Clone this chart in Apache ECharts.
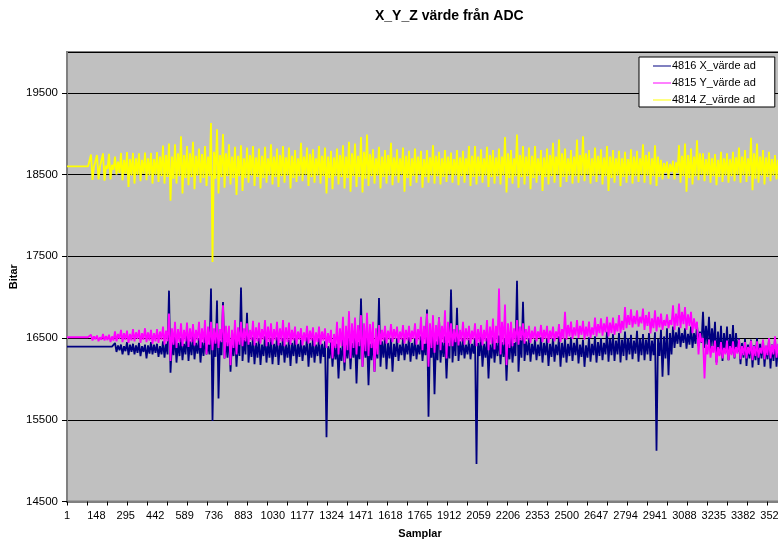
<!DOCTYPE html>
<html>
<head>
<meta charset="utf-8">
<title>X_Y_Z värde från ADC</title>
<script src="https://cdn.jsdelivr.net/npm/echarts@6/dist/echarts.min.js"></script>
<style>
  html, body { margin: 0; padding: 0; background: #fff; }
  #chart { width: 778px; height: 544px; }
</style>
</head>
<body>
<div id="chart"></div>
<script>
// one chunk = 15 samples, each chunk keeps the high and the low value
const CHUNK = 15
const seriesNames = ['4816 X_värde ad', '4815 Y_värde ad', '4814 Z_värde ad']

// 4816 X (navy)
const xHi = [
  16395, 16395, 16395, 16395, 16395, 16395, 16395, 16395, 16395, 16395, 16395, 16395, 16395, 16395, 16395, 16395,
  16440, 16410, 16420, 16400, 16450, 16420, 16430, 16410, 16440, 16400, 16420, 16410, 16450, 16420, 16430, 16400,
  16460, 16430, 17080, 16450, 16540, 16440, 16500, 16430, 16560, 16460, 16520, 16440, 16500, 16450, 16520, 16420,
  17106, 16500, 16960, 16470, 16940, 16450, 16560, 16440, 16540, 16460, 17118, 16480, 16808, 16450, 16510, 16440,
  16500, 16420, 16520, 16450, 16490, 16430, 16510, 16440, 16500, 16420, 16480, 16440, 16500, 16430, 16480, 16410,
  16510, 16440, 16490, 16420, 16500, 16430, 16460, 16400, 16450, 16410, 16430, 16380, 16480, 16420, 16500, 16440,
  16520, 16450, 16984, 16460, 16520, 16430, 16490, 16420, 16991, 16460, 16510, 16440, 16500, 16430, 16500, 16420,
  16490, 16430, 16510, 16440, 16500, 16420, 16520, 16430, 16850, 16480, 16600, 16460, 16750, 16450, 16520, 16440,
  17094, 16500, 16870, 16460, 16490, 16420, 16480, 16430, 16500, 16440, 16520, 16430, 16500, 16420, 16510, 16440,
  16530, 16450, 16500, 16430, 16520, 16440, 17200, 16480, 16943, 16460, 16500, 16430, 16480, 16420, 16510, 16440,
  16490, 16430, 16500, 16420, 16520, 16440, 16490, 16430, 16510, 16440, 16500, 16420, 16480, 16410, 16510, 16430,
  16520, 16450, 16500, 16440, 16576, 16490, 16550, 16470, 16560, 16480, 16580, 16500, 16540, 16470, 16590, 16490,
  16550, 16480, 16560, 16470, 16570, 16490, 16600, 16520, 16620, 16560, 16640, 16570, 16630, 16560, 16620, 16550,
  16640, 16560, 16660, 16580, 16820, 16650, 16760, 16620, 16700, 16580, 16650, 16560, 16640, 16550, 16660, 16560,
  16500, 16440, 16490, 16420, 16480, 16410, 16500, 16430, 16470, 16400, 16480, 16420, 16490, 16410, 16470, 16400
]
const xLo = [
  16375, 16375, 16375, 16375, 16375, 16375, 16375, 16375, 16375, 16375, 16375, 16375, 16375, 16375, 16375, 16375,
  16330, 16350, 16300, 16340, 16290, 16330, 16300, 16320, 16280, 16330, 16250, 16310, 16300, 16320, 16270, 16300,
  16260, 16300, 16075, 16290, 16200, 16280, 16230, 16300, 16220, 16290, 16240, 16310, 16200, 16280, 16300, 16300,
  15484, 16270, 15760, 16290, 16250, 16260, 16087, 16280, 16150, 16280, 16220, 16300, 16200, 16270, 16180, 16260,
  16170, 16280, 16200, 16260, 16180, 16270, 16170, 16290, 16200, 16260, 16160, 16280, 16190, 16270, 16220, 16290,
  16150, 16260, 16200, 16280, 16190, 16270, 15285, 16250, 16150, 16240, 16006, 16220, 16100, 16250, 16120, 16260,
  15945, 16240, 16150, 16260, 15924, 16230, 16087, 16250, 16150, 16260, 16120, 16250, 16087, 16270, 16220, 16290,
  16230, 16300, 16210, 16280, 16240, 16300, 16220, 16290, 15537, 16260, 15814, 16230, 16200, 16270, 16006, 16250,
  16200, 16280, 16220, 16290, 16250, 16300, 16240, 16310, 14958, 16280, 16150, 16260, 16006, 16250, 16200, 16280,
  16180, 16270, 15977, 16240, 16200, 16280, 16087, 16260, 16220, 16290, 16210, 16300, 16230, 16280, 16200, 16290,
  16160, 16270, 16210, 16290, 16150, 16260, 16200, 16280, 16220, 16290, 16190, 16270, 16148, 16260, 16210, 16290,
  16200, 16280, 16230, 16300, 16210, 16290, 16220, 16300, 16200, 16280, 16230, 16300, 16240, 16310, 16210, 16290,
  16230, 16300, 16220, 16290, 15121, 16280, 16026, 16250, 16046, 16300, 16380, 16430, 16390, 16440, 16370, 16420,
  16380, 16430, 16400, 16440, 16380, 16420, 16350, 16400, 16200, 16300, 16220, 16320, 16230, 16310, 16250, 16330,
  16180, 16260, 16160, 16250, 16140, 16230, 16170, 16250, 16150, 16240, 16128, 16220, 16150, 16240, 16160, 16250
]

// 4815 Y (magenta)
const yHi = [
  16510, 16510, 16510, 16510, 16510, 16510, 16510, 16510, 16540, 16520, 16530, 16510, 16550, 16525, 16540, 16520,
  16580, 16550, 16600, 16560, 16590, 16550, 16610, 16570, 16600, 16560, 16620, 16570, 16600, 16560, 16610, 16580,
  16640, 16590, 16800, 16620, 16700, 16610, 16680, 16600, 16690, 16620, 16670, 16600, 16700, 16620, 16720, 16640,
  16700, 16620, 16680, 16610, 16900, 16650, 16650, 16600, 16720, 16630, 16700, 16620, 16680, 16600, 16710, 16630,
  16690, 16610, 16720, 16640, 16680, 16610, 16700, 16620, 16720, 16630, 16690, 16600, 16640, 16580, 16620, 16570,
  16650, 16590, 16630, 16570, 16640, 16580, 16620, 16560, 16600, 16550, 16700, 16620, 16760, 16650, 16829, 16680,
  16750, 16660, 16780, 16680, 16810, 16670, 16700, 16620, 16660, 16600, 16650, 16590, 16670, 16610, 16640, 16580,
  16660, 16600, 16650, 16590, 16680, 16610, 16760, 16650, 16800, 16680, 16780, 16660, 16750, 16650, 16840, 16700,
  16680, 16610, 16660, 16600, 16700, 16620, 16650, 16590, 16680, 16610, 16660, 16600, 16720, 16640, 16740, 16650,
  17106, 16700, 16911, 16680, 16700, 16620, 16720, 16640, 16680, 16610, 16650, 16590, 16640, 16580, 16660, 16600,
  16650, 16590, 16640, 16580, 16670, 16610, 16820, 16660, 16700, 16630, 16720, 16650, 16710, 16640, 16700, 16630,
  16750, 16670, 16740, 16680, 16760, 16690, 16750, 16680, 16780, 16710, 16880, 16780, 16850, 16770, 16840, 16760,
  16860, 16780, 16820, 16740, 16840, 16760, 16800, 16720, 16790, 16720, 16900, 16800, 16923, 16820, 16880, 16790,
  16820, 16740, 16700, 16560, 16500, 16420, 16480, 16400, 16470, 16390, 16450, 16380, 16470, 16400, 16460, 16390,
  16480, 16400, 16450, 16390, 16470, 16400, 16460, 16380, 16480, 16410, 16500, 16420, 16520, 16430, 16480, 16400
]
const yLo = [
  16495, 16495, 16495, 16495, 16495, 16495, 16495, 16495, 16470, 16485, 16460, 16480, 16470, 16475, 16450, 16470,
  16460, 16490, 16450, 16480, 16440, 16470, 16460, 16490, 16440, 16480, 16450, 16470, 16430, 16460, 16440, 16480,
  16420, 16460, 16221, 16420, 16380, 16450, 16400, 16460, 16390, 16450, 16410, 16470, 16380, 16440, 16300, 16420,
  16350, 16430, 16380, 16450, 16250, 16400, 16169, 16380, 16300, 16420, 16400, 16460, 16420, 16470, 16410, 16460,
  16430, 16480, 16400, 16450, 16420, 16470, 16410, 16460, 16400, 16450, 16420, 16470, 16420, 16480, 16410, 16460,
  16430, 16470, 16400, 16450, 16420, 16470, 16380, 16440, 16250, 16380, 16300, 16400, 16200, 16350, 16250, 16380,
  16300, 16400, 16150, 16340, 16280, 16380, 16087, 16300, 16420, 16470, 16430, 16480, 16450, 16490, 16440, 16480,
  16430, 16470, 16450, 16490, 16420, 16470, 16350, 16430, 16148, 16380, 16320, 16420, 16350, 16440, 16250, 16400,
  16400, 16450, 16410, 16460, 16420, 16470, 16430, 16480, 16400, 16450, 16410, 16460, 16350, 16430, 16360, 16440,
  16300, 16420, 16169, 16380, 16400, 16450, 16420, 16470, 16430, 16480, 16440, 16490, 16460, 16500, 16450, 16490,
  16440, 16490, 16460, 16500, 16450, 16490, 16480, 16520, 16490, 16530, 16500, 16540, 16480, 16520, 16500, 16540,
  16520, 16560, 16530, 16570, 16520, 16560, 16540, 16580, 16560, 16600, 16620, 16660, 16630, 16670, 16640, 16680,
  16600, 16650, 16556, 16620, 16580, 16630, 16600, 16650, 16620, 16660, 16600, 16650, 16620, 16670, 16600, 16650,
  16560, 16610, 16300, 16450, 16006, 16300, 16260, 16320, 16170, 16280, 16250, 16300, 16230, 16290, 16260, 16310,
  16240, 16290, 16250, 16300, 16230, 16280, 16260, 16310, 16240, 16290, 16250, 16300, 16260, 16310, 16250, 16290
]

// 4814 Z (yellow)
const zHi = [
  18600, 18600, 18600, 18600, 18600, 18600, 18600, 18600, 18745, 18600, 18740, 18600, 18760, 18610, 18755, 18620,
  18720, 18660, 18765, 18680, 18775, 18690, 18765, 18700, 18760, 18680, 18770, 18700, 18765, 18690, 18775, 18720,
  18855, 18740, 18880, 18720, 18870, 18760, 18970, 18740, 18850, 18760, 18900, 18730, 18820, 18750, 18850, 18720,
  19130, 18780, 19055, 18740, 18995, 18760, 18870, 18720, 18840, 18730, 18860, 18700, 18830, 18740, 18850, 18710,
  18820, 18730, 18840, 18700, 18870, 18720, 18820, 18740, 18850, 18710, 18830, 18730, 18800, 18700, 18890, 18720,
  18830, 18750, 18810, 18700, 18850, 18730, 18830, 18720, 18790, 18710, 18820, 18740, 18860, 18720, 18900, 18760,
  18880, 18730, 18960, 18780, 18990, 18750, 18810, 18700, 18840, 18720, 18800, 18740, 18890, 18710, 18810, 18700,
  18830, 18730, 18790, 18700, 18820, 18720, 18790, 18690, 18800, 18710, 18860, 18730, 18780, 18700, 18800, 18720,
  18770, 18690, 18800, 18710, 18790, 18700, 18850, 18730, 18850, 18720, 18810, 18700, 18840, 18740, 18800, 18710,
  18820, 18720, 18960, 18760, 18800, 18700, 18990, 18740, 18850, 18720, 18830, 18730, 18850, 18700, 18800, 18710,
  18820, 18740, 18890, 18720, 18930, 18760, 18820, 18700, 18800, 18720, 18930, 18740, 18970, 18760, 18800, 18700,
  18830, 18730, 18810, 18710, 18850, 18720, 18800, 18700, 18790, 18700, 18780, 18690, 18810, 18720, 18790, 18700,
  18870, 18740, 18780, 18700, 18860, 18720, 18680, 18640, 18660, 18630, 18670, 18650, 18860, 18730, 18880, 18740,
  18820, 18720, 18920, 18760, 18760, 18690, 18770, 18700, 18750, 18680, 18780, 18700, 18760, 18690, 18780, 18710,
  18830, 18720, 18800, 18700, 18950, 18760, 18880, 18720, 18800, 18710, 18780, 18690, 18740, 18680, 18760, 18700
]
const zLo = [
  18585, 18585, 18585, 18585, 18585, 18585, 18580, 18580, 18435, 18580, 18440, 18580, 18425, 18570, 18440, 18560,
  18500, 18520, 18430, 18510, 18350, 18490, 18390, 18500, 18420, 18510, 18430, 18490, 18390, 18500, 18410, 18480,
  18390, 18470, 18180, 18450, 18390, 18480, 18270, 18460, 18370, 18470, 18320, 18490, 18400, 18460, 18360, 18480,
  17430, 18450, 18270, 18470, 18340, 18480, 18380, 18460, 18250, 18480, 18300, 18460, 18400, 18490, 18360, 18470,
  18330, 18460, 18400, 18490, 18380, 18470, 18350, 18480, 18400, 18490, 18330, 18460, 18410, 18480, 18420, 18500,
  18360, 18470, 18400, 18490, 18390, 18480, 18270, 18460, 18320, 18480, 18380, 18470, 18330, 18460, 18290, 18480,
  18350, 18470, 18280, 18450, 18360, 18480, 18390, 18490, 18330, 18470, 18390, 18490, 18370, 18480, 18400, 18500,
  18290, 18460, 18360, 18480, 18400, 18500, 18340, 18470, 18400, 18490, 18390, 18480, 18380, 18470, 18410, 18500,
  18400, 18490, 18370, 18480, 18400, 18500, 18360, 18470, 18380, 18480, 18400, 18490, 18350, 18470, 18390, 18480,
  18380, 18490, 18280, 18460, 18390, 18480, 18340, 18470, 18380, 18480, 18320, 18460, 18400, 18490, 18300, 18470,
  18380, 18480, 18400, 18500, 18350, 18470, 18410, 18490, 18390, 18480, 18400, 18490, 18420, 18500, 18390, 18480,
  18410, 18500, 18380, 18480, 18300, 18460, 18400, 18490, 18360, 18470, 18400, 18490, 18390, 18480, 18410, 18500,
  18400, 18490, 18380, 18480, 18360, 18470, 18440, 18520, 18450, 18530, 18440, 18520, 18400, 18480, 18290, 18460,
  18380, 18480, 18430, 18500, 18420, 18490, 18400, 18480, 18370, 18470, 18410, 18490, 18400, 18480, 18420, 18500,
  18400, 18490, 18410, 18480, 18310, 18450, 18400, 18490, 18380, 18470, 18420, 18490, 18440, 18500, 18420, 18490
]

// sample axis: labels every 147 samples starting at 1, tick marks every 100
const sampleMin = 1
const sampleMax = 3601
const labelStep = 147
const tickStep = 100

// value axis
const valueMin = 14500
const valueMax = 20000
const valueStep = 1000

const font = 'Liberation Sans, Arial, sans-serif'

// hi at chunk start, lo half a chunk later
const toPoints = (hi, lo) => {
  const pts = []
  for (let i = 0; i < hi.length; i++) {
    pts.push([sampleMin + i * CHUNK, hi[i]])
    pts.push([sampleMin + i * CHUNK + CHUNK / 2, lo[i]])
  }
  return pts
}

const plain = (v) => String(v)

const myChart = echarts.init(document.getElementById('chart'), null, { renderer: 'canvas' })

const option = {
  animation: false,
  color: ['#000080', '#ff00ff', '#ffff00'],
  title: {
    text: 'X_Y_Z värde från ADC',
    left: 370,
    top: 4,
    textStyle: { fontFamily: font, fontSize: 14, fontWeight: 'bold', color: '#000' },
  },
  legend: {
    data: seriesNames,
    orient: 'vertical',
    left: 639,
    top: 57,
    padding: [3, 19, 1, 14],
    itemGap: 5,
    itemWidth: 18,
    itemHeight: 1,
    icon: 'rect',
    backgroundColor: '#fff',
    borderColor: '#000',
    borderWidth: 1,
    borderRadius: 0,
    textStyle: { fontFamily: font, fontSize: 11, lineHeight: 12, color: '#000', padding: [0, 0, 0, -4] },
  },
  grid: {
    left: 67,
    right: -9,
    top: 52,
    bottom: 42.5,
    outerBoundsMode: 'none',
    containLabel: false,
    show: true,
    backgroundColor: '#c0c0c0',
    borderColor: '#808080',
    borderWidth: 2,
  },
  xAxis: [
    {
      type: 'value',
      position: 'bottom',
      min: sampleMin,
      max: sampleMax,
      interval: labelStep,
      name: 'Samplar',
      nameLocation: 'middle',
      nameGap: 27,
      nameMoveOverlap: false,
      nameTextStyle: { fontFamily: font, fontSize: 11, fontWeight: 'bold', color: '#000', padding: [0, 14, 0, 0] },
      axisLine: { onZero: false, lineStyle: { color: '#808080', width: 2 } },
      axisTick: { show: false },
      axisLabel: { fontFamily: font, fontSize: 11, color: '#000', margin: 9, showMaxLabel: false, formatter: plain },
      splitLine: { show: false },
    },
    {
      type: 'value',
      position: 'bottom',
      min: sampleMin,
      max: sampleMax,
      interval: tickStep,
      axisLine: { onZero: false, lineStyle: { color: '#808080', width: 2 } },
      axisTick: { show: true, length: 4, lineStyle: { color: '#000', width: 1 } },
      axisLabel: { show: false },
      splitLine: { show: false },
    },
  ],
  yAxis: {
    type: 'value',
    min: valueMin,
    max: valueMax,
    interval: valueStep,
    name: 'Bitar',
    nameLocation: 'middle',
    nameGap: 48,
    nameMoveOverlap: false,
    nameTextStyle: { fontFamily: font, fontSize: 11, fontWeight: 'bold', color: '#000' },
    axisLine: { show: true, lineStyle: { color: '#808080', width: 2 } },
    axisTick: { show: true, length: 5, lineStyle: { color: '#000', width: 1 } },
    axisLabel: { fontFamily: font, fontSize: 11.5, color: '#000', margin: 9, showMaxLabel: false, formatter: plain },
    splitLine: { show: true, lineStyle: { color: '#000', width: 1 } },
  },
  series: [
    {
      name: seriesNames[0],
      type: 'line',
      symbol: 'none',
      lineStyle: { width: 1.8 },
      data: toPoints(xHi, xLo),
    },
    {
      name: seriesNames[1],
      type: 'line',
      symbol: 'none',
      lineStyle: { width: 1.8 },
      data: toPoints(yHi, yLo),
    },
    {
      name: seriesNames[2],
      type: 'line',
      symbol: 'none',
      lineStyle: { width: 1.8 },
      data: toPoints(zHi, zLo),
    },
  ],
}

myChart.setOption(option)
</script>
</body>
</html>
